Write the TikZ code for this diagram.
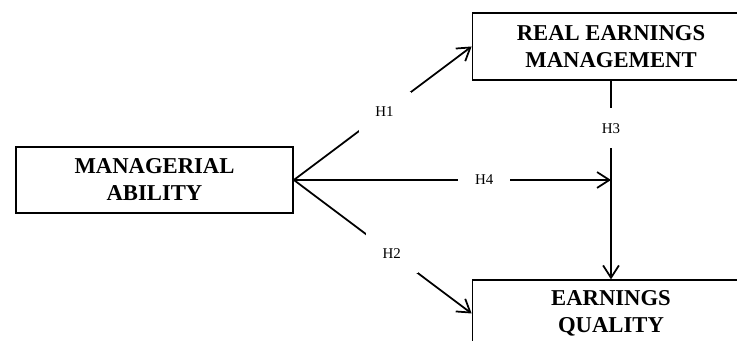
\documentclass[tikz,border=0pt]{standalone}
\usepackage{fontspec}
\setmainfont{Liberation Serif}
\usetikzlibrary{arrows.meta}

\begin{document}
\begin{tikzpicture}[
    font=\fontsize{8.5}{10}\selectfont,
    construct/.style={draw, line width=1pt, minimum width=5.54cm, minimum height=1.33cm,
        inner sep=0pt, align=center, font=\fontsize{12.9}{15.4}\selectfont\bfseries},
    link/.style={line width=1pt, -{Straight Barb[length=7pt, width=9pt]}},
    hyp/.style={fill=white, minimum width=1.04cm, minimum height=0.8cm, inner sep=0pt}
]
    \path[use as bounding box, clip] (0, 0) rectangle (14.74, 6.82);

    % Constructs
    \node[construct] (ability) at (3.09, 3.22) {MANAGERIAL\\ABILITY};
    \node[construct] (rem) at (12.22, 5.89) {REAL EARNINGS\\MANAGEMENT};
    \node[construct] (quality) at (12.22, 0.55) {EARNINGS\\QUALITY};

    % Hypotheses
    \coordinate (join) at (rem.south |- ability.east);
    \draw[link] (ability.east) -- (rem.west) node[hyp, pos=0.51] (h1) {H1};
    \draw[link] (ability.east) -- (quality.west) node[hyp, pos=0.55] (h2) {H2};
    \draw[link] (rem.south) -- (quality.north) node[hyp, pos=0.24] (h3) {H3};
    \draw[link] (ability.east) -- (join) node[hyp, pos=0.6] (h4) {H4};
\end{tikzpicture}
\end{document}
